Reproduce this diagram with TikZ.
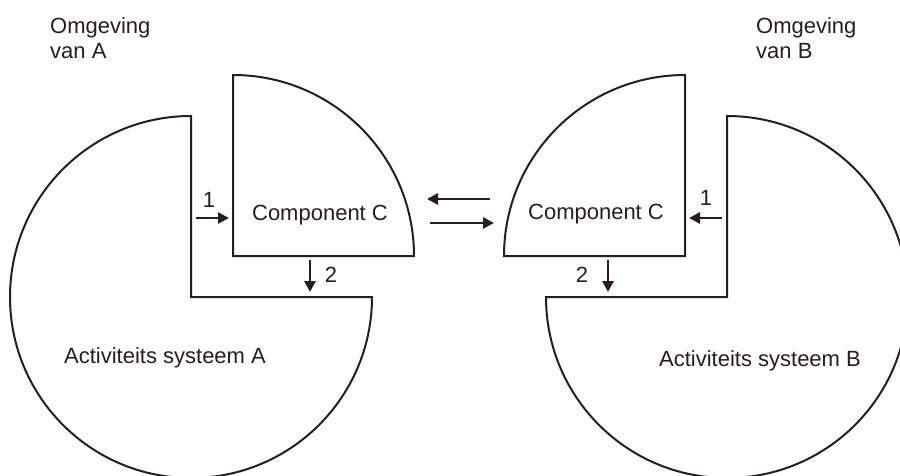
\documentclass[tikz,border=0pt]{standalone}
\usepackage{fontspec}
\setmainfont{Liberation Sans}
\usetikzlibrary{arrows.meta}
\definecolor{ink}{HTML}{231F20}
\begin{document}
\begin{tikzpicture}[x=1pt,y=1pt,
  outline/.style={draw=ink, line width=2pt, line join=miter},
  flow/.style={draw=ink, line width=2.8pt, -{Triangle[length=11pt,width=11pt]}},
  lbl/.style={text=ink, font=\fontsize{22}{25}\selectfont, inner sep=0pt},
  num/.style={lbl}]
\useasboundingbox (0,0) rectangle (900,475);
\clip (0,0) rectangle (900,475);

% activity system A: circle with its upper right quarter removed
\draw[outline] (191,359) -- (191,178) -- (372,178)
  arc[start angle=0, end angle=-270, radius=181] -- cycle;
% component C on the A side: quarter disc
\draw[outline] (233,219) -- (414,219)
  arc[start angle=0, end angle=90, radius=181] -- cycle;
% component C on the B side
\draw[outline] (685,219) -- (685,400)
  arc[start angle=90, end angle=180, radius=181] -- cycle;
% activity system B: circle with its upper left quarter removed
\draw[outline] (727,359) -- (727,178) -- (546,178)
  arc[start angle=180, end angle=450, radius=181] -- cycle;

% texts
\node[lbl, anchor=north west, align=left] (envA) at (50,458) {Omgeving\\van A};
\node[lbl, anchor=north west, align=left] (envB) at (756,458) {Omgeving\\van B};
\node[lbl, anchor=base] (compA) at (320,255) {Component C};
\node[lbl, anchor=base] (compB) at (596,256) {Component C};
\node[lbl, anchor=base] (actA) at (165,112) {Activiteits systeem A};
\node[lbl, anchor=base] (actB) at (760,109) {Activiteits systeem B};

% arrow end points
\coordinate (a1s) at (196,257); \coordinate (a1e) at (229,257);
\coordinate (a2s) at (310,215); \coordinate (a2e) at (310,183);
\coordinate (b1s) at (722,257); \coordinate (b1e) at (689,257);
\coordinate (b2s) at (608,215); \coordinate (b2e) at (608,183);
\coordinate (m1s) at (490,276); \coordinate (m1e) at (427,276);
\coordinate (m2s) at (430,252); \coordinate (m2e) at (494,252);

\draw[flow] (a1s) -- (a1e);
\draw[flow] (a2s) -- (a2e);
\draw[flow] (b1s) -- (b1e);
\draw[flow] (b2s) -- (b2e);
\draw[flow] (m1s) -- (m1e);
\draw[flow] (m2s) -- (m2e);

\node[num] (na1) at (209,275) {1};
\node[num] (na2) at (331,200.5) {2};
\node[num] (nb1) at (706,277) {1};
\node[num] (nb2) at (582,200) {2};
\end{tikzpicture}
\end{document}
